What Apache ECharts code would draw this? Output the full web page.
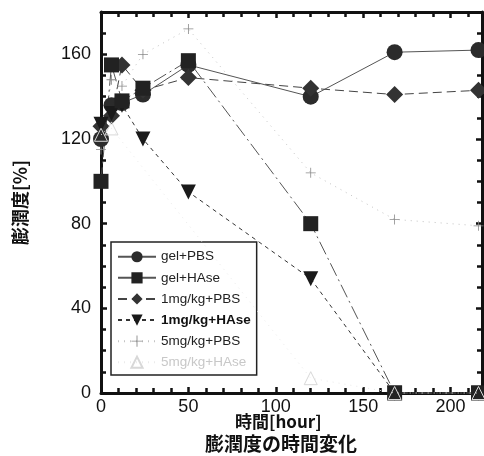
<!DOCTYPE html>
<html><head><meta charset="utf-8">
<script src="https://cdn.jsdelivr.net/npm/echarts@6/dist/echarts.min.js"></script>
<style>html,body{margin:0;padding:0;background:#fff}#c{width:484px;height:456px}</style>
</head><body><div id="c"></div>
<script>
const hours = [0, 6, 12, 24, 50, 120, 168, 216];
const seriesNames = ['gel+PBS', 'gel+HAse', '1mg/kg+PBS', '1mg/kg+HAse', '5mg/kg+PBS', '5mg/kg+HAse'];
const gelPBS      = [120, 136, 137, 141, 155, 140, 161, 162];
const gelHAse     = [100, 155, 138, 144, 157, 80, 0, 0];
const mg1PBS      = [126, 131, 155, 143, 149, 144, 141, 143];
const mg1HAse     = [127, 132, 136, 120, 95, 54, 0, 0];
const mg5PBS      = [115, 148, 145, 160, 172, 104, 82, 79];
const mg5HAse     = [122, 125, null, null, null, 7, 0, 0];
const yTicks = [0, 40, 80, 120, 160];
const xTicks = [0, 50, 100, 150, 200];

const plusPath = 'path://M4.6,0H5.4V4.6H10V5.4H5.4V10H4.6V5.4H0V4.6H4.6Z';
const pair = v => hours.map((h, i) => [h, v[i]]);
const font = '"Liberation Sans", Arial, "Noto Sans CJK JP", sans-serif';
const cjk = '"Noto Sans CJK JP", sans-serif';

function mk(name, vals, symbol, size, color, lineColor, lineType, lineWidth) {
  return {
    name: name, type: 'line', data: pair(vals), symbol: symbol, symbolSize: size,
    clip: false, connectNulls: true,
    itemStyle: { color: color, borderColor: color, borderWidth: 0 },
    lineStyle: { color: lineColor, type: lineType, width: lineWidth },
    emphasis: { disabled: true }, animation: false
  };
}

const series = [
  mk(seriesNames[5], mg5HAse, 'triangle', 13, '#e4e4e4', '#ebebeb', [1, 5], 1),
  mk(seriesNames[4], mg5PBS, plusPath, 10, '#8a8a8a', '#c4c4c4', [1, 5], 1),
  mk(seriesNames[0], gelPBS, 'circle', 16, '#2b2b2b', '#555', 'solid', 1),
  mk(seriesNames[2], mg1PBS, 'diamond', 17, '#333', '#444', [9, 5], 1),
  mk(seriesNames[3], mg1HAse, 'triangle', 15, '#1a1a1a', '#333', [4, 4], 1),
  mk(seriesNames[1], gelHAse, 'rect', 15, '#222', '#555', [14, 4, 2, 4], 1)
];
series[4].symbolRotate = 180;
series[0].itemStyle = { color: 'rgba(0,0,0,0)', borderColor: '#d8d8d8', borderWidth: 1 };
series[0].z = 5;

const legendData = seriesNames.map((n, i) => {
  const o = { name: n };
  if (i === 3) o.textStyle = { fontWeight: 'bold', color: '#111' };
  if (i === 5) o.textStyle = { color: '#c8c8c8' };
  return o;
});

const axisCommon = {
  axisLine: { show: true, onZero: false, lineStyle: { color: '#111', width: 3 } },
  axisTick: { show: true, inside: true, length: 6, lineStyle: { color: '#111', width: 2.5 } },
  minorTick: { show: true, length: 5, lineStyle: { color: '#111', width: 2.5 } },
  splitLine: { show: false }
};

const chart = echarts.init(document.getElementById('c'), null, { renderer: 'canvas' });
chart.setOption({
  animation: false,
  backgroundColor: '#fff',
  title: [
    { text: '時間[hour]', left: 235, top: 413, textStyle: { fontFamily: cjk, fontSize: 17, fontWeight: 'bold', color: '#111' }, padding: 0 },
    { text: '膨潤度の時間変化', left: 205, top: 434, textStyle: { fontFamily: cjk, fontSize: 19, fontWeight: 'bold', color: '#111' }, padding: 0 }
  ],
  grid: { left: 101, right: 2, top: 12, bottom: 63 },
  legend: {
    data: legendData, orient: 'vertical', left: 111, top: 242,
    itemWidth: 38, itemHeight: 14, itemGap: 7.6,
    padding: [8, 6, 6, 6],
    borderColor: '#222', borderWidth: 1.5, backgroundColor: '#fff',
    textStyle: { fontFamily: font, fontSize: 13.5, color: '#222' },
    selectedMode: false
  },
  xAxis: [
    Object.assign({}, axisCommon, {
      type: 'value', position: 'bottom', min: 0, max: 218, interval: 50,
      minorTick: Object.assign({}, axisCommon.minorTick, { splitNumber: 5 }),
      axisLabel: { show: true, fontFamily: font, fontSize: 18, color: '#111', margin: 5, showMaxLabel: false,
        formatter: v => xTicks.indexOf(v) >= 0 ? String(v) : '' }
    }),
    Object.assign({}, axisCommon, {
      type: 'value', position: 'top', min: 0, max: 218, interval: 50,
      minorTick: Object.assign({}, axisCommon.minorTick, { splitNumber: 5 }),
      axisLabel: { show: false }
    })
  ],
  yAxis: [
    Object.assign({}, axisCommon, {
      type: 'value', position: 'left', min: 0, max: 180, interval: 40,
      minorTick: Object.assign({}, axisCommon.minorTick, { splitNumber: 4 }),
      name: '膨潤度[%]', nameLocation: 'middle', nameGap: 72, nameRotate: 90,
      nameTextStyle: { fontFamily: cjk, fontSize: 18, fontWeight: 'bold', color: '#111' },
      axisLabel: { show: true, fontFamily: font, fontSize: 18, color: '#111', margin: 10, showMaxLabel: false,
        formatter: v => yTicks.indexOf(v) >= 0 ? String(v) : '' }
    }),
    Object.assign({}, axisCommon, {
      type: 'value', position: 'right', min: 0, max: 180, interval: 40,
      minorTick: Object.assign({}, axisCommon.minorTick, { splitNumber: 4 }),
      axisLabel: { show: false }
    })
  ],
  series: series
});
</script></body></html>
